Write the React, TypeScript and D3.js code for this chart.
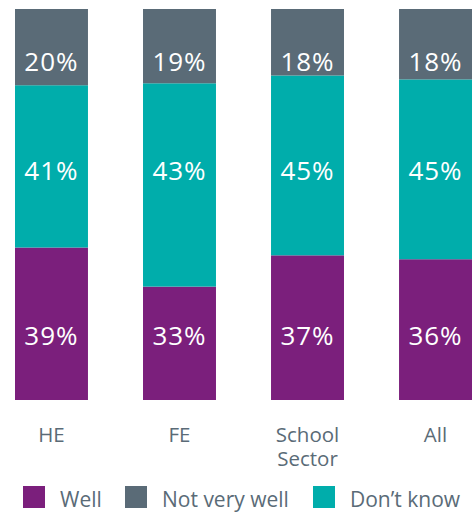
import React from "react";
import * as d3 from "d3";

const categories = ["HE", "FE", "School Sector", "All"];
const seriesNames = ["Well", "Don\u2019t know", "Not very well"];
// segment heights (share of bar, %)
const wellValues = [39, 29, 37, 36];
const dontKnowValues = [41.5, 52, 46, 46];
const notVeryWellValues = [19.5, 19, 17, 18];
// printed labels
const wellLabels = ["39%", "33%", "37%", "36%"];
const dontKnowLabels = ["41%", "43%", "45%", "45%"];
const notVeryWellLabels = ["20%", "19%", "18%", "18%"];
const legendOrder = ["Well", "Not very well", "Don\u2019t know"];

const COLORS: Record<string, string> = {
  Well: "#7b1f7c",
  "Don\u2019t know": "#00adab",
  "Not very well": "#5a6b77",
};
const TEXT = "#5a6b77";
const FONT = "'Open Sans', sans-serif";

export default function App() {
  const W = 475;
  const H = 514;
  const rows = categories.map((c, i) => ({
    cat: c,
    Well: wellValues[i],
    "Don\u2019t know": dontKnowValues[i],
    "Not very well": notVeryWellValues[i],
  }));
  const stack = d3
    .stack<any>()
    .keys(seriesNames)
    .offset(d3.stackOffsetExpand);
  const layers = stack(rows);
  const x = d3
    .scaleBand<string>()
    .domain(categories)
    .range([15, 472])
    .paddingInner(0.43)
    .paddingOuter(0);
  const y = d3.scaleLinear().domain([0, 1]).range([400, 9]);
  const labelSets: Record<string, string[]> = {
    Well: wellLabels,
    "Don\u2019t know": dontKnowLabels,
    "Not very well": notVeryWellLabels,
  };
  const labelAnchor: Record<string, number> = {
    Well: 0.166,
    "Don\u2019t know": 0.588,
    "Not very well": 0.867,
  };
  const legendX: Record<string, number> = {
    Well: 23,
    "Not very well": 125,
    "Don\u2019t know": 313,
  };

  return (
    <svg
      width={W}
      height={H}
      style={{ position: "absolute", left: 0, top: 0, background: "#fff" }}
      fontFamily={FONT}
    >
      {layers.map((layer) => (
        <g key={layer.key} fill={COLORS[layer.key]}>
          {layer.map((d, i) => (
            <rect
              key={i}
              x={x(categories[i])}
              y={y(d[1])}
              width={x.bandwidth()}
              height={y(d[0]) - y(d[1])}
            />
          ))}
        </g>
      ))}
      {seriesNames.map((s) =>
        categories.map((c, i) => (
          <text
            key={s + c}
            x={(x(c) as number) + x.bandwidth() / 2}
            y={y(labelAnchor[s])}
            textAnchor="middle"
            dominantBaseline="central"
            fill="#fff"
            fontSize={26}
            letterSpacing={1}
          >
            {labelSets[s][i]}
          </text>
        ))
      )}
      {categories.map((c) =>
        c.split(" ").map((p, j) => (
          <text
            key={c + j}
            x={(x(c) as number) + x.bandwidth() / 2}
            y={442 + j * 24}
            textAnchor="middle"
            fill={TEXT}
            fontSize={20.5}
          >
            {p}
          </text>
        ))
      )}
      {legendOrder.map((s) => (
        <g key={s} transform={`translate(${legendX[s]},486)`}>
          <rect width={22} height={22} fill={COLORS[s]} />
          <text x={37} y={21} fill={TEXT} fontSize={21}>
            {s}
          </text>
        </g>
      ))}
    </svg>
  );
}
